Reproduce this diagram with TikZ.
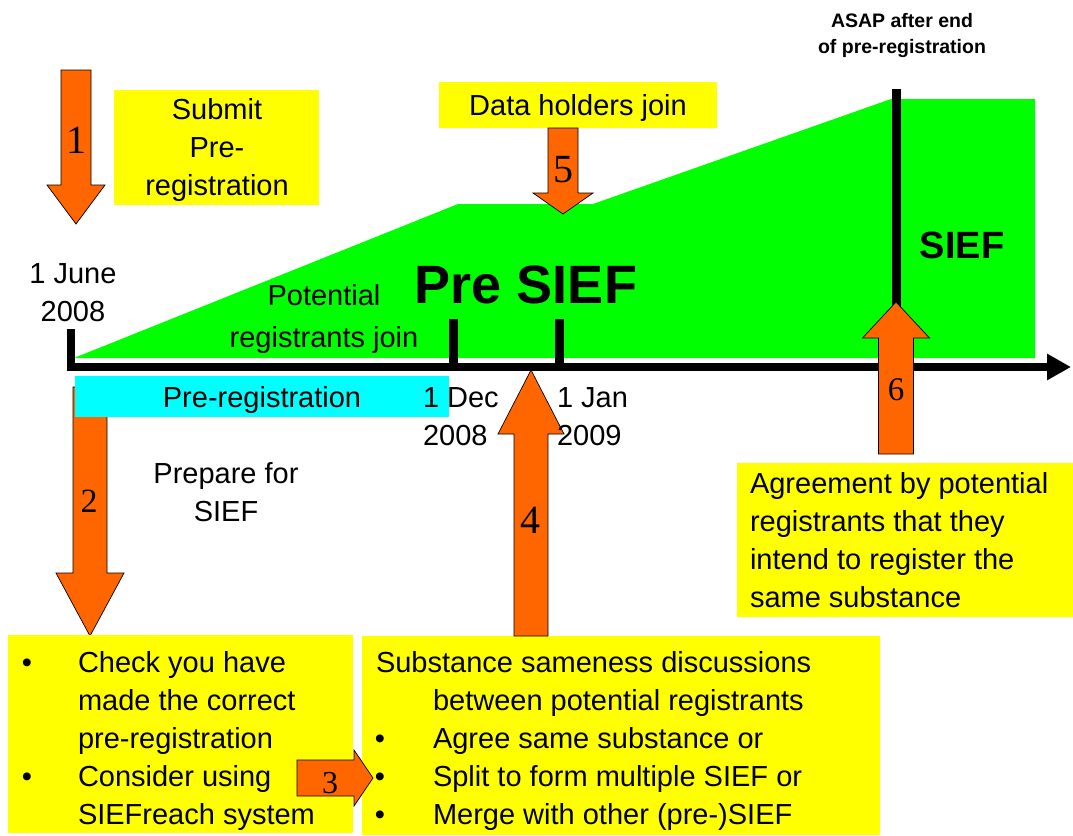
\documentclass[tikz,border=0pt]{standalone}
\usepackage{fontspec}
\setmainfont{Liberation Sans}
\newfontfamily\numfont{Liberation Serif}
\usetikzlibrary{arrows.meta}
\definecolor{myorange}{HTML}{FF6600}
\definecolor{myyellow}{HTML}{FFFF00}
\definecolor{mygreen}{HTML}{00FF00}
\definecolor{mycyan}{HTML}{00FFFF}
\newcommand\fsmain{\fontsize{29}{38}\selectfont}
\newcommand\vblock[6]{\draw[blk] ({#1-#5},#2) -- ({#1+#5},#2) -- ({#1+#5},#3) -- ({#1+#6},#3) -- (#1,#4) -- ({#1-#6},#3) -- ({#1-#5},#3) -- cycle;}
\newcommand\hblock[6]{\draw[blk] (#2,{#1-#5}) -- (#3,{#1-#5}) -- (#3,{#1-#6}) -- (#4,#1) -- (#3,{#1+#6}) -- (#3,{#1+#5}) -- (#2,{#1+#5}) -- cycle;}
\tikzset{
  blk/.style={fill=myorange, draw=black, line width=0.7pt, line join=miter},
  ybox/.style={fill=myyellow, draw=none, inner sep=0pt, outer sep=0pt, anchor=north west},
  txt/.style={font=\fsmain, inner sep=0pt, outer sep=0pt},
  num/.style={inner sep=0pt, anchor=base},
  bar/.style={line width=9pt, black},
}
\begin{document}
\begin{tikzpicture}[x=1pt,y=-1pt]
\useasboundingbox[fill=white] (0,0) rectangle (1073,835);
% green areas
\fill[mygreen] (74,358) -- (458,204) -- (593,204) -- (891,99) -- (1035,99) -- (1035,358) -- cycle;
% vertical bar and ticks
\draw[bar] (896,89) -- (896,330);
\draw[bar] (453,319) -- (453,367);
\draw[bar] (559,319) -- (559,367);
\draw[line width=7.5pt] (70.75,329) -- (70.75,371);
% axis
\coordinate (axl) at (67,367);
\coordinate (axr) at (1071,367);
\draw[line width=7.5pt, -{Triangle[width=25pt,length=24pt]}] (axl) -- (axr);
% arrow 2 (under the cyan box)
\vblock{90}{387}{573}{636}{17}{34}
% cyan box
\node[fill=mycyan, inner sep=0pt, outer sep=0pt, anchor=north west, minimum width=374pt, minimum height=41pt] (cyanbox) at (75,376) {};
% yellow boxes
\node[ybox, minimum width=205pt, minimum height=115pt] (submitbox) at (114,90) {};
\node[ybox, minimum width=278pt, minimum height=46pt] (databox) at (439,82) {};
\node[ybox, minimum width=336pt, minimum height=154pt] (agreebox) at (737,463) {};
\node[ybox, minimum width=345pt, minimum height=198pt] (leftbox) at (8,635) {};
\node[ybox, minimum width=518pt, minimum height=199pt] (rightbox) at (362,636) {};
% block arrows
\vblock{76}{70}{185}{224}{15}{29}
\hblock{778}{297}{354}{373}{18}{28}
\vblock{531}{636}{434}{370}{17}{33}
\vblock{563}{128}{193}{214}{15}{30}
\vblock{896}{454}{338}{302}{17.5}{33.5}
% numbers
\node[num, font=\numfont\fontsize{40}{40}\selectfont] (n1) at (76,153) {1};
\node[num, font=\numfont\fontsize{34}{34}\selectfont] (n2) at (89,512) {2};
\node[num, font=\numfont\fontsize{32}{32}\selectfont] (n3) at (330,793) {3};
\node[num, font=\numfont\fontsize{40}{40}\selectfont] (n4) at (530,533) {4};
\node[num, font=\numfont\fontsize{40}{40}\selectfont] (n5) at (563,182) {5};
\node[num, font=\numfont\fontsize{33}{33}\selectfont] (n6) at (896,400) {6};
% texts
\node[txt, anchor=north, align=center] (submit) at (217,92.4) {\strut Submit\\Pre-\\registration};
\node[txt, anchor=base] (datah) at (578,115) {Data holders join};
\node[txt, anchor=north, align=center] (june) at (73,256.4) {\strut 1 June\\2008};
\node[txt, anchor=north, align=center, font=\fontsize{29}{42}\selectfont] (potential) at (324,275.6) {\strut Potential\\registrants join};
\node[txt, anchor=base, font=\bfseries\fontsize{54}{54}\selectfont] (presief) at (526,303) {Pre SIEF};
\node[txt, anchor=base, font=\bfseries\fontsize{38}{38}\selectfont] (sief) at (962,258) {SIEF};
\node[txt, anchor=north, align=center, font=\bfseries\fontsize{19.5}{26}\selectfont] (asap) at (902,8.8) {\strut ASAP after end\\of pre-registration};
\node[txt, anchor=base] (prereg) at (262,407) {Pre-registration};
\node[txt, anchor=north west, align=left] (dec) at (423,380.4) {\strut 1 Dec\\2008};
\node[txt, anchor=north west, align=left] (jan) at (557,380.4) {\strut 1 Jan\\2009};
\node[txt, anchor=north, align=center] (prepare) at (226,456.4) {\strut Prepare for\\SIEF};
\node[txt, anchor=north west, align=left] (agree) at (750,466.4) {\strut Agreement by potential\\registrants that they\\intend to register the\\same substance};
\node[txt, anchor=north west, align=left] (leftlist) at (78,645.4) {\strut Check you have\\made the correct\\pre-registration\\Consider using\\SIEFreach system};
\node[txt, anchor=base] (lb1) at (27,672) {•};
\node[txt, anchor=base] (lb2) at (27,786) {•};
\node[txt, anchor=base west] (subst) at (376,672) {Substance sameness discussions};
\node[txt, anchor=north west, align=left] (rightlist) at (433,683.4) {\strut between potential registrants\\Agree same substance or\\Split to form multiple SIEF or\\Merge with other (pre-)SIEF};
\node[txt, anchor=base] (rb1) at (380,748) {•};
\node[txt, anchor=base] (rb2) at (380,786) {•};
\node[txt, anchor=base] (rb3) at (380,824) {•};
\end{tikzpicture}
\end{document}
